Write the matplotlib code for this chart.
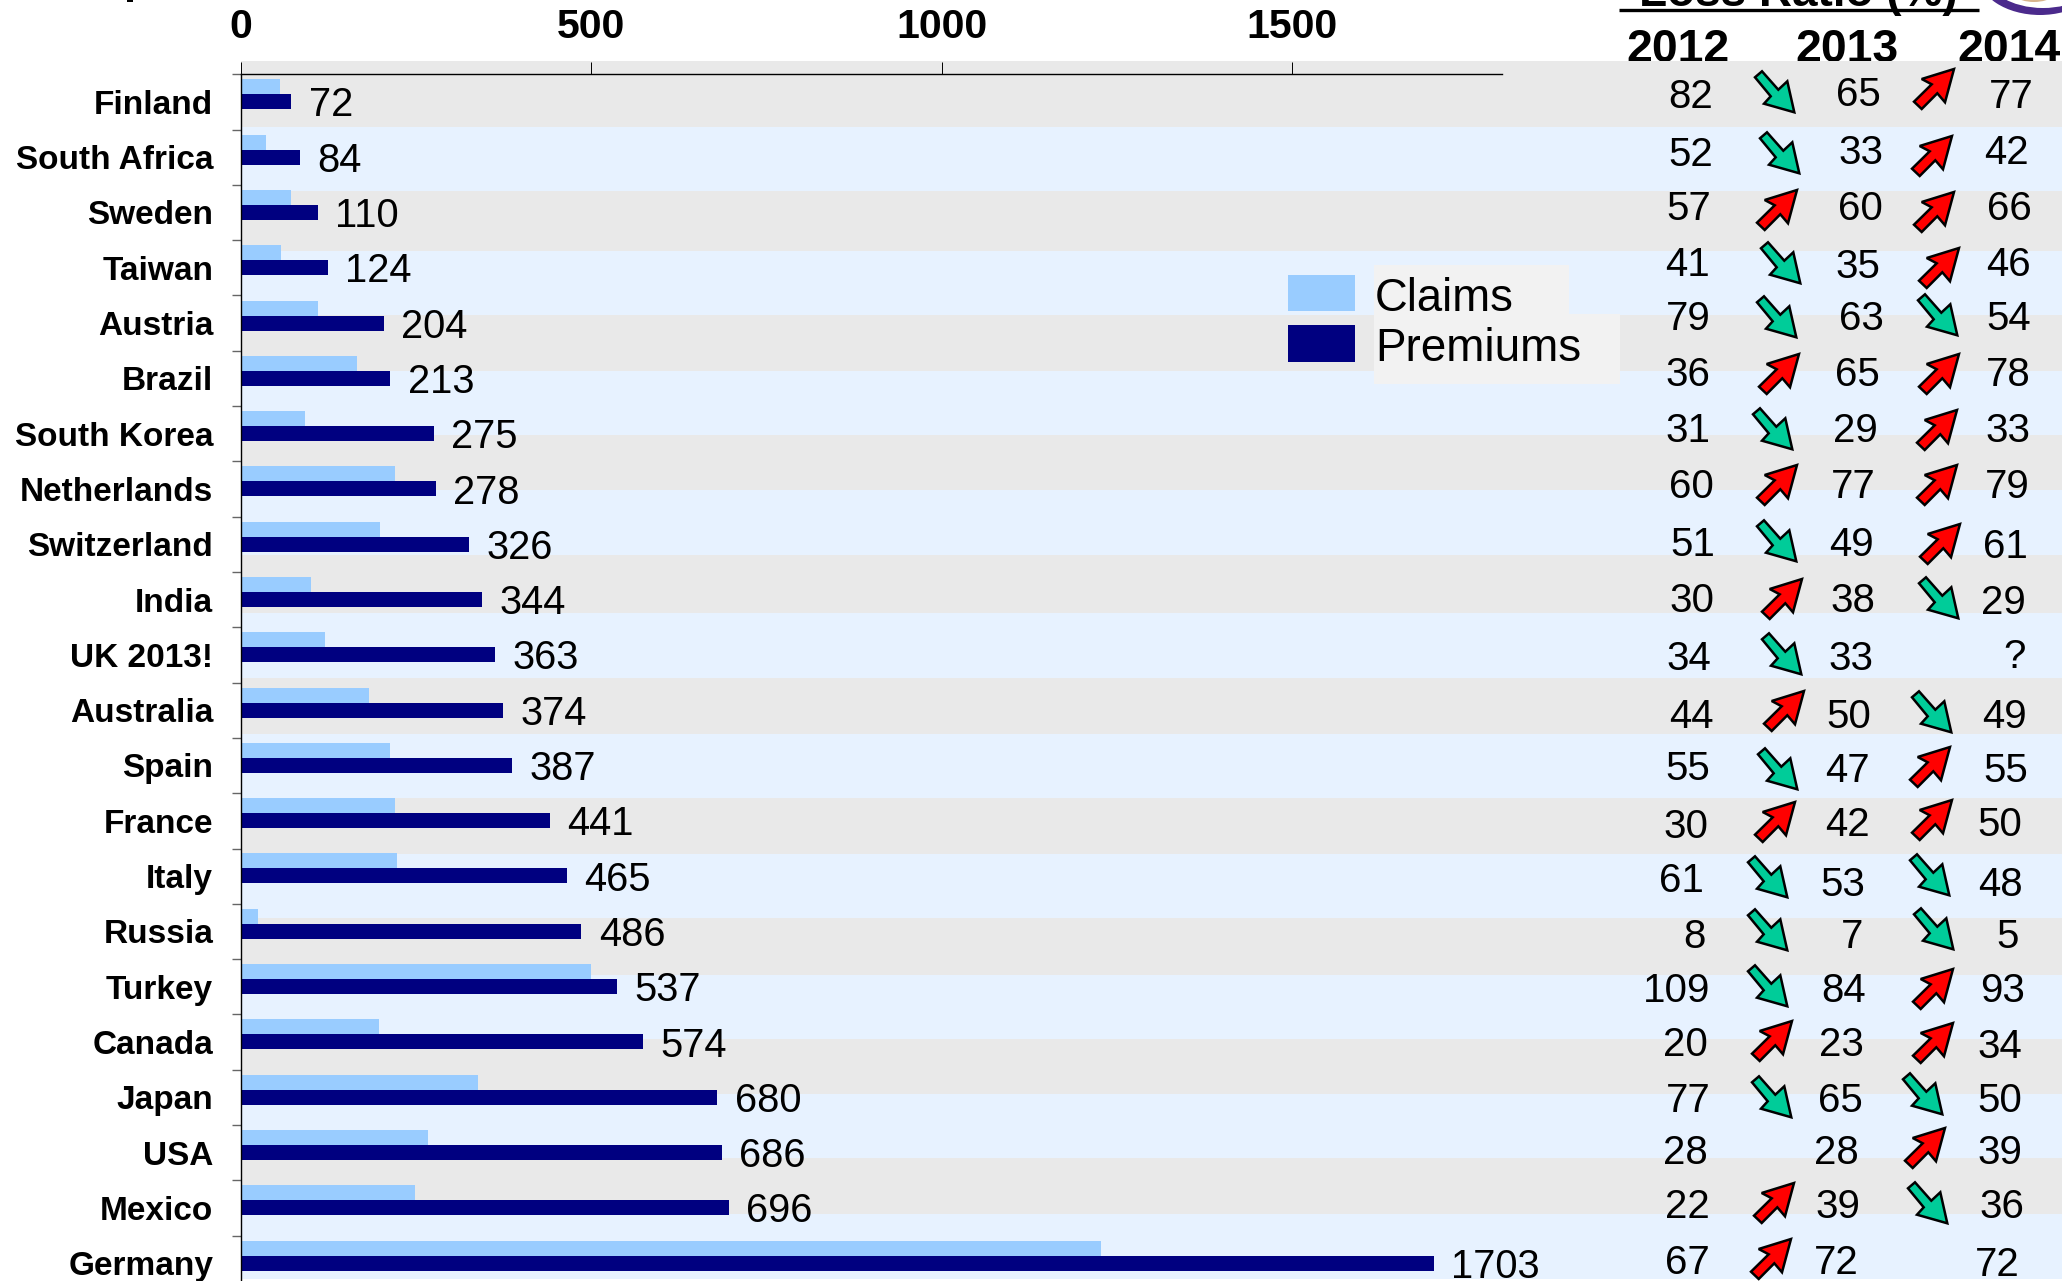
import matplotlib
matplotlib.use("Agg")
import matplotlib.pyplot as plt
from matplotlib.patches import Ellipse, Polygon, Rectangle

plt.rcParams["font.family"] = ["Liberation Sans", "DejaVu Sans"]

W, H = 2062, 1281

countries = ["Finland", "South Africa", "Sweden", "Taiwan", "Austria", "Brazil", "South Korea",
             "Netherlands", "Switzerland", "India", "UK 2013!", "Australia", "Spain", "France",
             "Italy", "Russia", "Turkey", "Canada", "Japan", "USA", "Mexico", "Germany"]
premiums = [72, 84, 110, 124, 204, 213, 275, 278, 326, 344, 363, 374, 387, 441, 465, 486, 537,
            574, 680, 686, 696, 1703]
claims = [55, 35, 72, 57, 110, 166, 91, 220, 199, 100, 120, 183, 213, 220, 223, 24, 499, 197,
          338, 267, 249, 1228]
ratio_2012 = [82, 52, 57, 41, 79, 36, 31, 60, 51, 30, 34, 44, 55, 30, 61, 8, 109, 20, 77, 28, 22, 67]
ratio_2013 = [65, 33, 60, 35, 63, 65, 29, 77, 49, 38, 33, 50, 47, 42, 53, 7, 84, 23, 65, 28, 39, 72]
ratio_2014 = [77, 42, 66, 46, 54, 78, 33, 79, 61, 29, None, 49, 55, 50, 48, 5, 93, 34, 50, 39, 36, 72]
years = ["2012", "2013", "2014"]

# hand placed table cells, in pixels (the original is a pasted slide, nothing lines up)
x_2012 = [1691, 1691, 1689, 1688, 1688, 1688, 1688, 1691, 1693, 1692, 1689, 1691, 1688, 1686, 1681,
          1694, 1677, 1685, 1688, 1685, 1687, 1687]
y_2012 = [94, 153, 207, 263, 317, 373, 428, 484, 542, 599, 656, 714, 767, 824, 879, 934, 988, 1043,
          1099, 1151, 1205, 1260]
x_2013 = [1858, 1861, 1860, 1858, 1861, 1857, 1855, 1853, 1851, 1853, 1851, 1849, 1847, 1847, 1843,
          1852, 1844, 1841, 1840, 1836, 1838, 1836]
y_2013 = [92, 151, 207, 265, 317, 373, 428, 484, 542, 599, 656, 714, 769, 823, 882, 934, 988, 1043,
          1099, 1151, 1205, 1260]
x_2014 = [2011, 2006, 2009, 2008, 2009, 2008, 2008, 2007, 2005, 2003, 2015, 2004, 2006, 2000, 2000,
          2008, 2003, 2000, 2000, 2000, 2002, 1997]
y_2014 = [94, 151, 207, 263, 317, 373, 428, 485, 544, 600, 655, 714, 769, 823, 882, 934, 989, 1045,
          1099, 1151, 1205, 1262]
arrow1_x = [1775, 1780, 1777, 1781, 1777, 1779, 1773, 1777, 1777, 1782, 1782, 1784, 1778, 1775, 1768,
            1768, 1768, 1772, 1772, 0, 1774, 1771]
arrow1_y = [92, 153, 210, 263, 317, 374, 429, 485, 541, 599, 654, 711, 769, 822, 877, 930, 986, 1041,
            1097, 0, 1203, 1259]
arrow2_x = [1934, 1932, 1934, 1939, 1938, 1939, 1937, 1937, 1940, 1939, 0, 1932, 1930, 1932, 1930,
            1934, 1933, 1933, 1923, 1925, 1928, 0]
arrow2_y = [89, 156, 212, 268, 315, 374, 430, 485, 544, 598, 0, 712, 767, 820, 875, 929, 989, 1043,
            1094, 1148, 1203, 0]

band_edges = [61, 126.5, 190.6, 251, 315, 371, 435, 490, 555, 613, 678, 734, 798, 854, 918, 975,
              1039, 1094, 1158, 1214, 1279]

GREY, BLUE = "#e9e9e9", "#e7f2ff"
CLAIMS, PREMIUMS = "#99ccff", "#000080"
UP = [(20, -20), (11, 13.3), (3.3, 4.3), (-12.3, 20), (-20, 12.7), (-2.3, -4.7), (-12.3, -10)]
DOWN = [(19.3, 20.3), (-11, 11.7), (-4.3, 4.3), (-20, -14.7), (-13, -20.7), (3.3, -2.3), (12.3, -10.7)]
NUM_DROP = 2.5  # va=center sits a bit high with this font


def pixel_axes(fig, zorder):
    ax = fig.add_axes([0, 0, 1, 1], zorder=zorder)
    ax.set_xlim(0, W)
    ax.set_ylim(H, 0)
    ax.axis("off")
    return ax


def draw_arrow(ax, x, y, before, after):
    if x == 0 or after is None or before == after:
        return
    shape, color = (UP, "#ff0000") if after > before else (DOWN, "#00cc99")
    ax.add_patch(Polygon([(x + dx, y + dy) for dx, dy in shape], closed=True, facecolor=color,
                         edgecolor="black", linewidth=1.8, joinstyle="miter"))


fig = plt.figure(figsize=(W / 100, H / 100), dpi=100, facecolor="white")

# back layer: headers sit under the bands, which cut off their feet
back = pixel_axes(fig, 0)
for year, x in zip(years, [1678, 1847, 2009]):
    back.text(x, 62, year, fontsize=33.4, fontweight="bold", ha="center", va="baseline")
back.text(1798, 6, "Loss Ratio (%)", fontsize=33, fontweight="bold", ha="center", va="baseline")
back.plot([1619, 1979], [9.5, 9.5], color="black", lw=2.4, solid_capstyle="butt")
back.add_patch(Rectangle((127, 0), 6, 1.8, facecolor="black", edgecolor="none"))
for i in range(len(band_edges) - 1):
    back.add_patch(Rectangle((241, band_edges[i]), W - 241, band_edges[i + 1] - band_edges[i],
                             facecolor=GREY if i % 2 == 0 else BLUE, edgecolor="none", zorder=3))
# logo, only its lower rim is in the picture
back.add_patch(Ellipse((2040, -26), 124, 82, facecolor="#4b2a8c", edgecolor="none", zorder=1))
back.add_patch(Ellipse((2043, -28), 116, 72, facecolor="white", edgecolor="none", zorder=1))
back.add_patch(Ellipse((2034, -20), 62, 44, facecolor="#d8b48c", edgecolor="none", zorder=1))

# bars, y=i puts the line between claims and premiums of a country
step = 55.3
ax = fig.add_axes([241 / W, 0, (1502 - 241) / W, (H - 74.3) / H], zorder=1)
ax.patch.set_visible(False)
ax.set_xlim(0, 1800)
ax.set_ylim((H - 94.3) / step, -20 / step)
rows = list(range(len(countries)))
ax.barh([r - 15 / step for r in rows], claims, height=15 / step, align="edge", color=CLAIMS)
ax.barh(rows, premiums, height=15 / step, align="edge", color=PREMIUMS)
for r, p in zip(rows, premiums):
    ax.annotate(str(p), (p, r), xytext=(12.5, -8), textcoords="offset points", fontsize=28.7,
                va="center", ha="left", annotation_clip=False)

for side in ["right", "bottom"]:
    ax.spines[side].set_visible(False)
for side in ["top", "left"]:
    ax.spines[side].set_linewidth(1.0)
ax.xaxis.tick_top()
ax.set_xticks([0, 500, 1000, 1500])
ax.tick_params(axis="x", length=8.6, width=0.7, pad=11.5, labelsize=29.5)
for lab in ax.get_xticklabels():
    lab.set_fontweight("bold")
ax.set_yticks([r + 7.6 / step for r in rows])
ax.set_yticklabels(countries, fontsize=24, fontweight="bold")
ax.tick_params(axis="y", which="major", length=0, pad=20)
ax.set_yticks([r - 20 / step for r in rows], minor=True)
ax.tick_params(axis="y", which="minor", length=6.8, width=1.0, color="#666666")

# front layer: loss ratio table and legend
front = pixel_axes(fig, 2)
for i in rows:
    front.text(x_2012[i], y_2012[i] + NUM_DROP, str(ratio_2012[i]), fontsize=29, ha="center", va="center")
    front.text(x_2013[i], y_2013[i] + NUM_DROP, str(ratio_2013[i]), fontsize=29, ha="center", va="center")
    v = ratio_2014[i]
    front.text(x_2014[i], y_2014[i] + NUM_DROP, "?" if v is None else str(v), fontsize=29, ha="center", va="center")
    draw_arrow(front, arrow1_x[i], arrow1_y[i], ratio_2012[i], ratio_2013[i])
    draw_arrow(front, arrow2_x[i], arrow2_y[i], ratio_2013[i], v)

front.add_patch(Rectangle((1374, 265), 195, 49, facecolor="#f2f2f2", edgecolor="none"))
front.add_patch(Rectangle((1374, 314), 246, 70, facecolor="#f2f2f2", edgecolor="none"))
front.add_patch(Rectangle((1288, 275), 67, 36, facecolor=CLAIMS, edgecolor="none"))
front.add_patch(Rectangle((1288, 325), 67, 37, facecolor=PREMIUMS, edgecolor="none"))
front.text(1375, 311, "Claims", fontsize=32.8, va="baseline")
front.text(1375, 361, "Premiums", fontsize=33, va="baseline")

fig.savefig("out.png", dpi=100)
